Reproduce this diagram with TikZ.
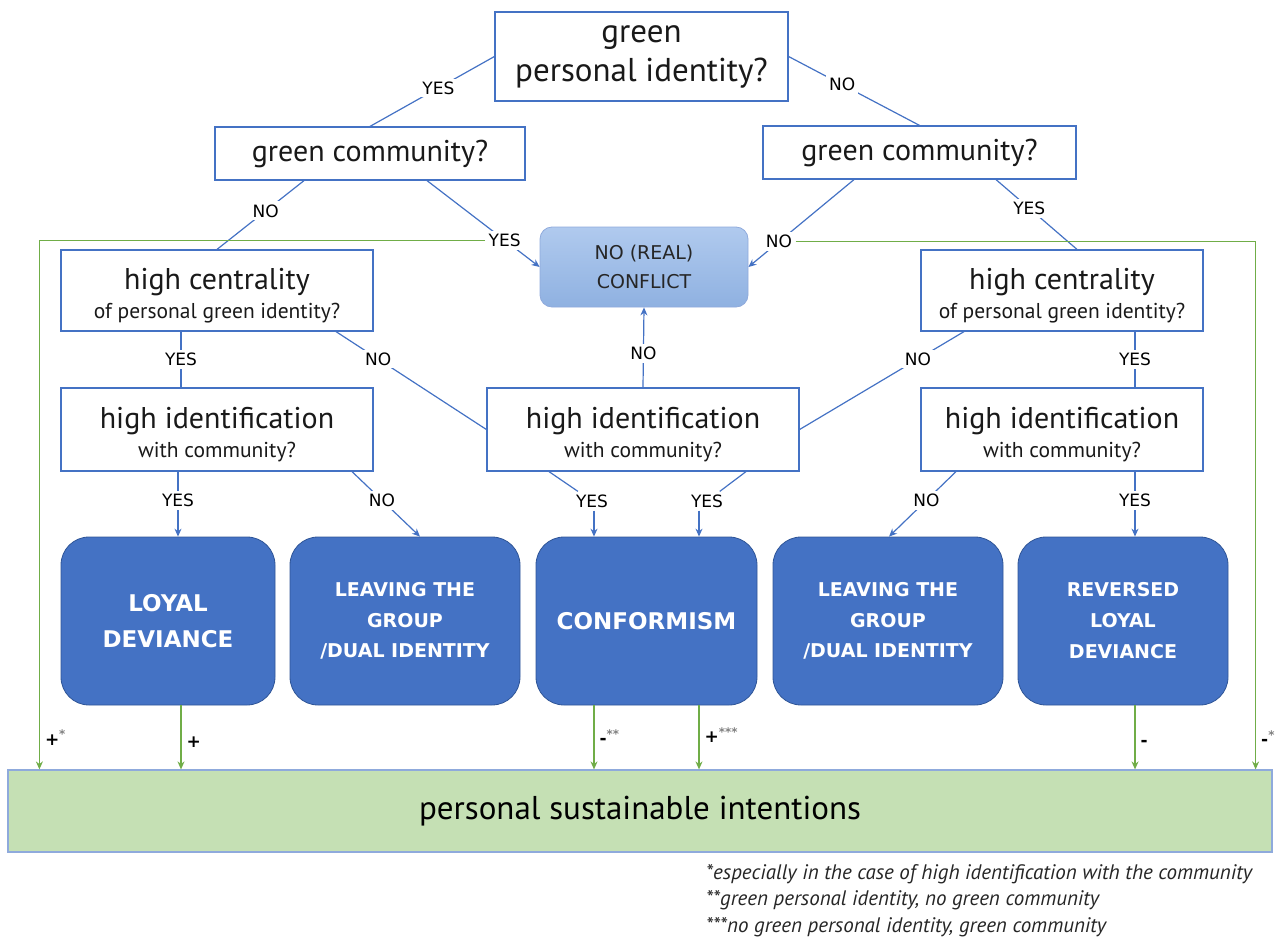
\documentclass[tikz,border=0pt]{standalone}
\usepackage{fontspec}
\setmainfont{PT Sans}
\newfontfamily\capsfont{DejaVu Sans}
\usetikzlibrary{arrows.meta,calc,positioning}

\definecolor{qblue}{HTML}{4472C4}
\definecolor{qdark}{HTML}{2F5597}
\definecolor{cftop}{HTML}{B0CAEE}
\definecolor{cfbot}{HTML}{8FB1E1}
\definecolor{barfill}{HTML}{C5E0B4}
\definecolor{barline}{HTML}{8FAADC}
\definecolor{gline}{HTML}{70AD47}

\newcommand{\qbig}{\fontsize{30}{34}\selectfont}
\newcommand{\qsmall}{\fontsize{21.5}{24}\selectfont}
\newcommand{\qup}{\rule{0pt}{32pt}}

\tikzset{
  qbox/.style={draw=qblue, line width=1.2pt, fill=white, align=center, inner sep=0pt, text=black!90, font=\qbig},
  obox/.style={draw=qdark, line width=0.8pt, fill=qblue, rounded corners=28pt, text=white,
    align=center, minimum height=168pt},
  cfbox/.style={draw=barline, line width=0.8pt, rounded corners=12pt, top color=cftop,
    bottom color=cfbot, align=center, text=black!85, font=\capsfont\fontsize{19}{29}\selectfont,
    minimum width=208pt, minimum height=80pt},
  lbl/.style={fill=white, font=\capsfont\fontsize{17}{18}\selectfont, inner sep=3pt},
  bl/.style={draw=qblue, line width=1.2pt},
  arr/.style={bl, -{Stealth[length=8pt,width=7pt]}},
  garr/.style={draw=gline, line width=1.2pt, -{Stealth[length=8pt,width=7pt]}},
  sgn/.style={font=\capsfont\bfseries\fontsize{17}{18}\selectfont, right, inner sep=5pt}
}

\begin{document}
\begin{tikzpicture}[x=1pt, y=-1pt]
    \useasboundingbox (0,0) rectangle (1280,940);

    \node[qbox, minimum width=293pt, minimum height=89pt, font=\fontsize{33}{39}\selectfont] (gpi) at (641.5,56.5) {green\\personal identity?};
    \node[qbox, minimum width=310pt, minimum height=53pt] (gcl) at (370,153.5) {green community?};
    \node[qbox, minimum width=313pt, minimum height=53pt] (gcr) at (919.5,152.5) {green community?};
    \node[cfbox] (cf) at (644,267) {NO (REAL)\\CONFLICT};

    \node[qbox, minimum width=312pt, minimum height=81pt] (hcl) at (217,290.5) {\qup high centrality\\[-5pt]{\qsmall of personal green identity?}};
    \node[qbox, minimum width=282pt, minimum height=81pt] (hcr) at (1062,290.5) {\qup high centrality\\[-5pt]{\qsmall of personal green identity?}};
    \node[qbox, minimum width=312pt, minimum height=83pt] (hil) at (217,429.5) {\qup high identification\\[-5pt]{\qsmall with community?}};
    \node[qbox, minimum width=312pt, minimum height=83pt] (him) at (643,429.5) {\qup high identification\\[-5pt]{\qsmall with community?}};
    \node[qbox, minimum width=282pt, minimum height=83pt] (hir) at (1062,429.5) {\qup high identification\\[-5pt]{\qsmall with community?}};

    \node[obox, minimum width=214pt, font=\capsfont\bfseries\fontsize{23}{36}\selectfont] (ld) at (168,621) {LOYAL\\DEVIANCE};
    \node[obox, minimum width=230pt, font=\capsfont\bfseries\fontsize{19}{30.5}\selectfont] (lv1) at (405,621) {LEAVING THE\\GROUP\\/DUAL IDENTITY};
    \node[obox, minimum width=221pt, font=\capsfont\bfseries\fontsize{23}{36}\selectfont] (cnf) at (646.5,621) {CONFORMISM};
    \node[obox, minimum width=230pt, font=\capsfont\bfseries\fontsize{19}{30.5}\selectfont] (lv2) at (888,621) {LEAVING THE\\GROUP\\/DUAL IDENTITY};
    \node[obox, minimum width=210pt, font=\capsfont\bfseries\fontsize{19}{31}\selectfont] (rld) at (1123,621) {REVERSED\\LOYAL\\DEVIANCE};

    \node[draw=barline, line width=1.2pt, fill=barfill, minimum width=1264pt, minimum height=82pt, font=\fontsize{33}{36}\selectfont] (bar) at (640,811) {personal sustainable intentions};

    \draw[bl] (gpi.west) -- node[lbl, pos=0.45] {YES} (gcl.north);
    \draw[bl] (gpi.east) -- node[lbl, pos=0.41] {NO} (gcr.north);
    \draw[bl] ($(gcl.south)+(-66,0)$) -- node[lbl, pos=0.44] {NO} (hcl.north);
    \draw[arr] ($(gcl.south)+(57,0)$) -- node[lbl, pos=0.69] (ycf) {YES} (cf.west);
    \draw[arr] ($(gcr.south)+(-65.5,0)$) -- node[lbl, pos=0.71] (ncf) {NO} (cf.east);
    \draw[bl] ($(gcr.south)+(76.5,0)$) -- node[lbl, pos=0.41] {YES} ($(hcr.north)+(15,0)$);

    \draw[bl] ($(hcl.south)+(-36,0)$) -- node[lbl] {YES} ($(hil.north)+(-36,0)$);
    \draw[bl] ($(hcl.south)+(119,0)$) -- node[lbl, pos=0.28] {NO} (him.west);
    \draw[bl] ($(hcr.south)+(-98,0)$) -- node[lbl, pos=0.28] {NO} (him.east);
    \draw[bl] ($(hcr.south)+(73,0)$) -- node[lbl] {YES} ($(hir.north)+(73,0)$);
    \draw[arr] (him.north) -- node[lbl, pos=0.42] {NO} (cf.south);

    \draw[arr] ($(hil.south)+(-39,0)$) -- node[lbl, pos=0.44] {YES} ($(ld.north)+(10,0)$);
    \draw[arr] ($(hil.south)+(135,0)$) -- node[lbl, pos=0.44] {NO} ($(lv1.north)+(15,0)$);
    \coordinate (c1) at ($(cnf.north)+(-52.5,0)$);
    \coordinate (c2) at ($(cnf.north)+(52.5,0)$);
    \node[lbl] (yc1) at (592,501) {YES};
    \node[lbl] (yc2) at (707,501) {YES};
    \draw[bl] ($(him.south)+(-94,0)$) -- (yc1);
    \draw[arr] (yc1.south -| c1) -- (c1);
    \draw[bl] ($(him.south)+(103,0)$) -- (yc2);
    \draw[arr] (yc2.south -| c2) -- (c2);
    \draw[arr] ($(hir.south)+(-106,0)$) -- node[lbl, pos=0.44] {NO} ($(lv2.north)+(1,0)$);
    \draw[arr] ($(hir.south)+(73,0)$) -- node[lbl, pos=0.44] {YES} ($(rld.north)+(12,0)$);

    \coordinate (g1) at ($(ld.south)+(13,0)$);
    \coordinate (g2) at ($(cnf.south)+(-52.5,0)$);
    \coordinate (g3) at ($(cnf.south)+(52.5,0)$);
    \coordinate (g4) at ($(rld.south)+(12,0)$);
    \draw[garr] (ycf) -| node[sgn, pos=0.97] {+\textsuperscript{\color{gray}*}} ($(bar.north west)+(32,0)$);
    \draw[garr] (ncf) -| node[sgn, pos=0.97] {-\textsuperscript{\color{gray}*}} ($(bar.north east)+(-17,0)$);
    \draw[garr] (g1) -- node[sgn, pos=0.57] {+} (g1 |- bar.north);
    \draw[garr] (g2) -- node[sgn, pos=0.49] {-\textsuperscript{\color{gray}**}} (g2 |- bar.north);
    \draw[garr] (g3) -- node[sgn, pos=0.46] {+\textsuperscript{\color{gray}***}} (g3 |- bar.north);
    \draw[garr] (g4) -- node[sgn, pos=0.6] {-} (g4 |- bar.north);

    \node[anchor=north west, align=left, inner sep=0pt, text=black!85, font=\fontsize{21}{26.5}\selectfont\itshape] (fn) at (706,864)
        {*especially in the case of high identification with the community\\**green personal identity, no green community\\***no green personal identity, green community};
\end{tikzpicture}
\end{document}
